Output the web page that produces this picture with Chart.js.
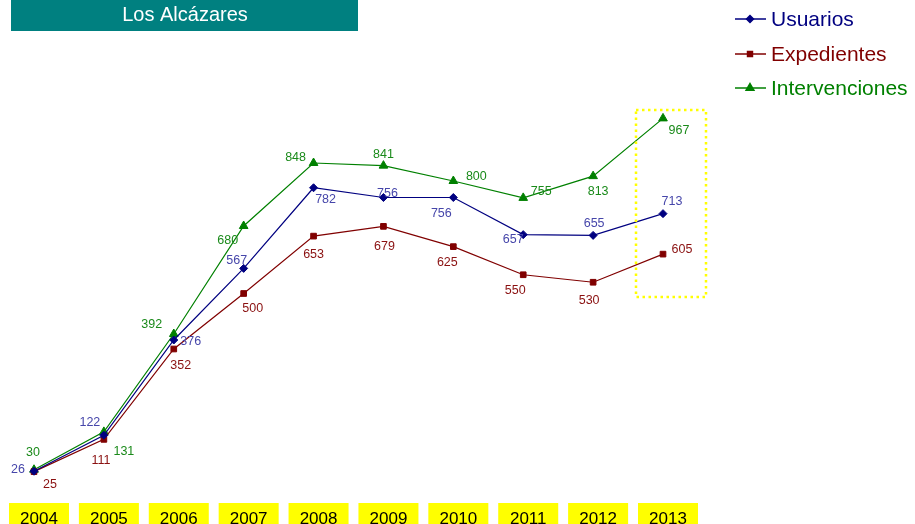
<!DOCTYPE html>
<html lang="es">
<head>
    <meta charset="UTF-8">
    <title>Los Alcázares</title>
    <script src="https://cdn.jsdelivr.net/npm/chart.js"></script>
    <style>
        body { margin: 0; background: #fff; }
    </style>
</head>
<body>
    <canvas id="chart" width="915" height="524"></canvas>

    <script>
        // Datos
        const years = ['2004', '2005', '2006', '2007', '2008', '2009', '2010', '2011', '2012', '2013'];
        const usuarios = [26, 122, 376, 567, 782, 756, 756, 657, 655, 713];
        const expedientes = [25, 111, 352, 500, 653, 679, 625, 550, 530, 605];
        const intervenciones = [30, 131, 392, 680, 848, 841, 800, 755, 813, 967];

        // posicion de cada etiqueta respecto al punto [dx, dy]
        const usuariosLabelPos = [[-16, -2], [-14, -13], [17, 2], [-7, -8], [12, 12], [4, -4], [-12, 16], [-10, 5], [1, -12], [9, -12]];
        const expedientesLabelPos = [[16, 13], [-3, 21], [7, 17], [9, 15], [0, 18], [1, 20], [-6, 16], [-8, 16], [-4, 18], [19, -5]];
        const intervencionesLabelPos = [[-1, -17], [20, 20], [-22, -9], [-16, 15], [-18, -5], [0, -11], [23, -4], [18, -6], [5, 15], [16, 12]];

        const font = '"Liberation Sans", Arial, sans-serif';

        // etiquetas de valores, cajas amarillas, titulo y leyenda
        const decorPlugin = {
            id: 'decor',
            afterDatasetsDraw(chart) {
                const ctx = chart.ctx;
                const x = chart.scales.x;

                // marco punteado en 2013
                ctx.save();
                ctx.strokeStyle = '#ffff00';
                ctx.lineWidth = 2.5;
                ctx.setLineDash([2.5, 3.5]);
                ctx.strokeRect(636, 110, 70, 187);
                ctx.restore();

                // valores
                ctx.save();
                ctx.font = '12.5px ' + font;
                ctx.textAlign = 'center';
                ctx.textBaseline = 'middle';
                chart.data.datasets.forEach((ds, i) => {
                    const meta = chart.getDatasetMeta(i);
                    ctx.fillStyle = ds.labelColor;
                    meta.data.forEach((pt, j) => {
                        const off = ds.labelPos[j];
                        ctx.fillText(ds.data[j], pt.x + off[0], pt.y + off[1]);
                    });
                });
                ctx.restore();

                // años en cajas amarillas
                ctx.save();
                ctx.font = '17px ' + font;
                ctx.textAlign = 'center';
                ctx.textBaseline = 'alphabetic';
                years.forEach((y, i) => {
                    const cx = x.getPixelForValue(i) + 5;
                    ctx.fillStyle = '#ffff00';
                    ctx.fillRect(cx - 30, 503, 60, 25);
                    ctx.fillStyle = '#000';
                    ctx.fillText(y, cx, 524);
                });
                ctx.restore();

                // titulo
                ctx.save();
                ctx.fillStyle = '#008080';
                ctx.fillRect(11, 0, 347, 31);
                ctx.fillStyle = '#fff';
                ctx.font = '20px ' + font;
                ctx.textAlign = 'center';
                ctx.textBaseline = 'middle';
                ctx.fillText('Los Alcázares', 185, 15);
                ctx.restore();

                // leyenda
                ctx.save();
                ctx.font = '21px ' + font;
                ctx.textBaseline = 'middle';
                const legendY = [19, 54, 88];
                chart.data.datasets.forEach((ds, i) => {
                    const ly = legendY[i];
                    ctx.strokeStyle = ds.borderColor;
                    ctx.lineWidth = 1.5;
                    ctx.beginPath();
                    ctx.moveTo(735, ly);
                    ctx.lineTo(766, ly);
                    ctx.stroke();
                    ctx.fillStyle = ds.borderColor;
                    Chart.helpers.drawPoint(ctx, {
                        pointStyle: ds.pointStyle,
                        radius: ds.pointRadius - 0.5,
                        borderWidth: 1
                    }, 750, ly);
                    ctx.fillStyle = ds.borderColor;
                    ctx.fillText(ds.label, 771, ly + 1);
                });
                ctx.restore();
            }
        };

        const config = {
            type: 'line',
            data: {
                labels: years,
                datasets: [
                    {
                        label: 'Usuarios',
                        data: usuarios,
                        borderColor: '#000080',
                        backgroundColor: '#000080',
                        pointStyle: 'rectRot',
                        pointRadius: 4,
                        labelColor: '#4646aa',
                        labelPos: usuariosLabelPos
                    },
                    {
                        label: 'Expedientes',
                        data: expedientes,
                        borderColor: '#800000',
                        backgroundColor: '#800000',
                        pointStyle: 'rect',
                        pointRadius: 4,
                        labelColor: '#8a1010',
                        labelPos: expedientesLabelPos
                    },
                    {
                        label: 'Intervenciones',
                        data: intervenciones,
                        borderColor: '#008000',
                        backgroundColor: '#008000',
                        pointStyle: 'triangle',
                        pointRadius: 5,
                        labelColor: '#1a8a1a',
                        labelPos: intervencionesLabelPos
                    }
                ]
            },
            options: {
                responsive: false,
                animation: false,
                elements: {
                    line: { borderWidth: 1.2, tension: 0 },
                    point: { borderWidth: 1 }
                },
                layout: {
                    padding: { left: 34, right: 252, top: 106, bottom: 43 }
                },
                scales: {
                    x: { display: false },
                    y: { display: false, min: 0, max: 1000 }
                },
                plugins: {
                    legend: { display: false },
                    tooltip: { enabled: false }
                }
            },
            plugins: [decorPlugin]
        };

        const ctx = document.getElementById('chart').getContext('2d');
        new Chart(ctx, config);
    </script>
</body>
</html>
